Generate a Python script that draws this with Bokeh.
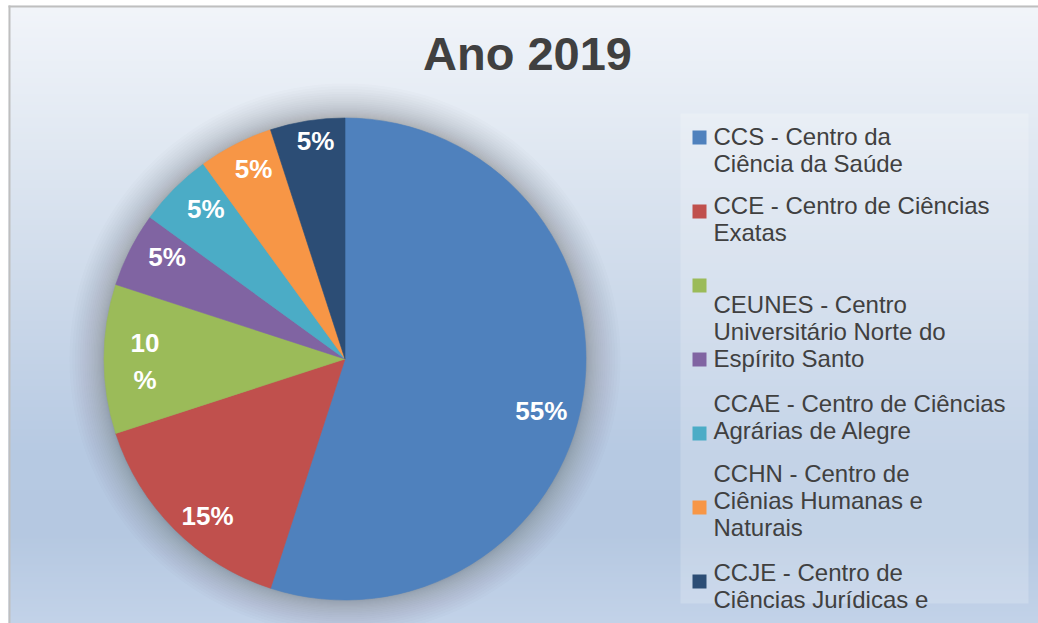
import numpy as np
from bokeh.plotting import figure
from bokeh.models import Range1d
from bokeh.core.properties import value
from bokeh.embed import file_html
from bokeh.resources import INLINE

# ---------------- data ----------------
title = "Ano 2019"
values = [55, 15, 10, 5, 5, 5, 5]
pct_labels = ["55%", "15%", "10\n%", "5%", "5%", "5%", "5%"]
colors = ["#4f81bd", "#c0504d", "#9bbb59", "#8064a2", "#4bacc6", "#f79646", "#2c4d75"]
legend_labels = [
    "CCS - Centro da\nCiência da Saúde",
    "CCE - Centro de Ciências\nExatas",
    "",
    "CEUNES - Centro\nUniversitário Norte do\nEspírito Santo",
    "CCAE - Centro de Ciências\nAgrárias de Alegre",
    "CCHN - Centro de\nCiênias Humanas e\nNaturais",
    "CCJE - Centro de\nCiências Jurídicas e",
]

# ---------------- layout (screen px, converted below) ----------------
W, H = 1038, 623
def X(px):
    return px
def Y(py):
    return H - py

CX, CY, R = X(344.5), Y(358.5), 241
label_r = [203, 209, 200, 205, 205, 211, 220]
label_dang = [-5.7, 3.9, 0.7, -2.8, -2.2, -1.3, -1.3]
legend_first_line = [136, 205, None, 304, 403, 473, 572]
legend_marker_y0, legend_step, line_h = 137, 74, 27

p = figure(width=W, height=H, x_range=Range1d(0, W), y_range=Range1d(0, H),
           output_backend="svg", toolbar_location=None, min_border=0)
p.axis.visible = False
p.grid.visible = False
p.outline_line_color = None
p.background_fill_color = "white"
p.border_fill_color = "white"

# background gradient (chart area starts at x=8, y=5)
stops_y = [5, 150, 300, 450, 530, 623]
stops_c = [(242, 245, 250), (224, 232, 242), (204, 217, 234), (183, 202, 227), (181, 200, 225), (195, 211, 233)]
CH = H - 5
rows = np.arange(CH) + 0.5
ref_y = H - rows
img = np.zeros((CH, 4), dtype=np.uint32)
view = img.view(dtype=np.uint8).reshape((CH, 4, 4))
for ch in range(3):
    col = np.interp(ref_y, stops_y, [c[ch] for c in stops_c])
    view[:, :, ch] = col[:, None].astype(np.uint8)
view[:, :, 3] = 255
p.image_rgba(image=[img], x=X(8), y=0, dw=W - 8, dh=CH)

# chart border (left & top)
p.quad(left=[X(8)], right=[X(10)], bottom=[0], top=[Y(5)], fill_color="#bfbfbf", line_color=None)
p.quad(left=[X(8)], right=[W], bottom=[Y(7)], top=[Y(5)], fill_color="#bfbfbf", line_color=None)

# title
p.text(x=[X(527)], y=[Y(53)], text=[title], text_font=value("Liberation Sans"),
       text_font_style="bold", text_font_size="47px", text_color="#404040",
       text_align="center", text_baseline="middle")

# soft shadow around the pie
for k in range(24, 0, -1):
    p.circle(x=[CX], y=[CY], radius=R + 0.06 * k * k, fill_color="#2a3c58", fill_alpha=0.016, line_color=None)

# pie
vals = np.array(values, dtype=float)
cum = np.concatenate([[0], np.cumsum(vals)]) / vals.sum()
start = np.pi / 2 - 2 * np.pi * cum[:-1]
end = np.pi / 2 - 2 * np.pi * cum[1:]
p.wedge(x=CX, y=CY, radius=R, start_angle=start, end_angle=end, direction="clock",
        fill_color=colors, line_color=colors, line_width=0.6)

# percentage labels
mid = (start + end) / 2 + np.radians(label_dang)
lx = CX + np.array(label_r) * np.cos(mid)
ly = CY + np.array(label_r) * np.sin(mid)
p.text(x=lx, y=ly, text=pct_labels, text_font=value("Liberation Sans"), text_font_style="bold",
       text_font_size="26px", text_color="white", text_align="center", text_baseline="middle",
       text_line_height=1.25)

# legend box
p.quad(left=[X(680)], right=[X(1028)], bottom=[Y(603)], top=[Y(113)],
       fill_color="white", fill_alpha=0.2, line_color=None)

# legend markers
my = [Y(legend_marker_y0 + legend_step * i) for i in range(len(values))]
p.rect(x=[X(699)] * len(values), y=my, width=14, height=14, fill_color=colors, line_color=None)

# legend texts
tx, ty, tt = [], [], []
for lab, first in zip(legend_labels, legend_first_line):
    if not lab or first is None:
        continue
    for j, line in enumerate(lab.split("\n")):
        tx.append(X(713))
        ty.append(Y(first + j * line_h))
        tt.append(line)
p.text(x=tx, y=ty, text=tt, text_font=value("Liberation Sans"), text_font_size="24px",
       text_color="#404040", text_align="left", text_baseline="middle")

open("out.html", "w").write(file_html(p, INLINE))
